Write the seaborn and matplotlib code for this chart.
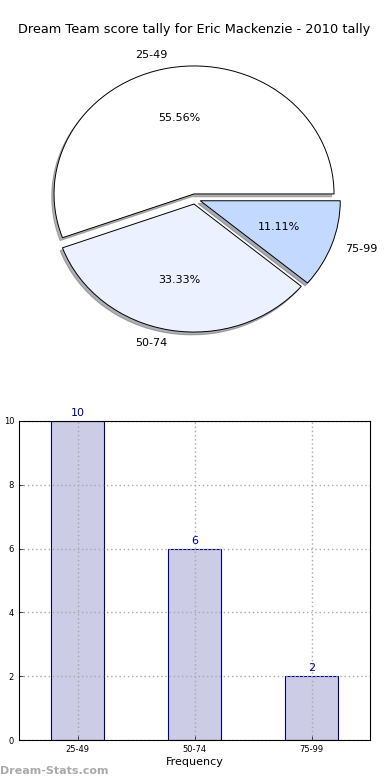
import matplotlib
matplotlib.use("Agg")
import matplotlib.pyplot as plt
import seaborn as sns
import pandas as pd

title = "Dream Team score tally for Eric Mackenzie - 2010 tally"
categories = ["25-49", "50-74", "75-99"]
counts = [10, 6, 2]
pie_colors = ["#ffffff", "#ebf1fe", "#c4d9ff"]
yticks = [0, 2, 4, 6, 8, 10]

fig = plt.figure(figsize=(3.9, 7.8), dpi=100)
fig.patch.set_facecolor("white")

# Pie
axp = fig.add_axes([20/390, 1 - 359/780, 350/390, 320/780])
axp.pie(counts, labels=categories, colors=pie_colors, explode=[0.04]*3,
        autopct="%.2f%%", startangle=0,
        shadow=dict(ox=-0.012, oy=-0.016, shade=0.6), counterclock=True,
        wedgeprops=dict(edgecolor="black", linewidth=0.7),
        textprops=dict(fontsize=8))
axp.set_xlim(-1.25, 1.25)
axp.set_ylim(-1.25, 1.25)
axp.set_aspect("auto")

fig.text(194/390, 1 - 30/780, title, ha="center", va="center", fontsize=9.3)

# Bar chart
axb = fig.add_axes([19/390, 40/780, 351/390, 319/780])
df = pd.DataFrame({"cat": categories, "n": counts})
sns.barplot(data=df, x="cat", y="n", ax=axb, color="#ccccE6", saturation=1,
            width=0.45, edgecolor="#000080", linewidth=0.8)
axb.set_xlim(-0.5, 2.5)
axb.set_ylim(0, 10)
axb.set_yticks(yticks)
axb.set_axisbelow(False)
axb.grid(True, linestyle=(0, (1, 2)), color="#a8a8a8", linewidth=1)
for p in axb.patches:
    p.set_zorder(1)
for s in axb.spines.values():
    s.set_visible(True)
    s.set_color("black")
    s.set_linewidth(0.8)
    s.set_zorder(3)
axb.tick_params(labelsize=6, direction="in", length=3, width=0.5)
axb.set_xlabel("Frequency", fontsize=8, labelpad=2)
axb.set_ylabel("Occurrences", fontsize=8, labelpad=9)
for p, v in zip(axb.patches, counts):
    axb.annotate(str(v), (p.get_x() + p.get_width()/2, p.get_height()),
                 xytext=(0, 2), textcoords="offset points", ha="center",
                 va="bottom", fontsize=8, color="#000080", annotation_clip=False)

fig.text(0, 1 - 771/780, "Dream-Stats.com", ha="left", va="center",
         fontsize=8, color="#aaaaaa", fontweight="bold")

fig.savefig("out.png", dpi=100)
